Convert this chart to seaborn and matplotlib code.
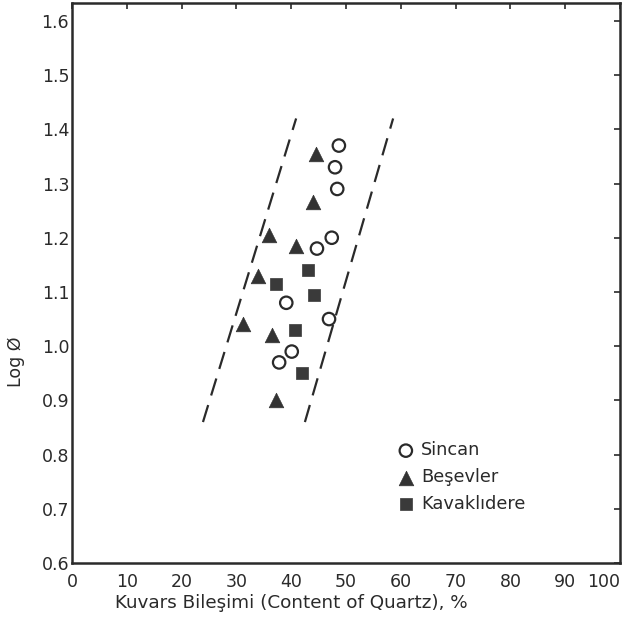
import matplotlib
matplotlib.use("Agg")
import matplotlib.pyplot as plt
import seaborn as sns
import pandas as pd

# Quartz content (%) and Log Ø for the three sampling sites
sincan_quartz = [48.7, 48.0, 48.4, 47.4, 44.7, 39.1, 46.9, 40.1, 37.8]
sincan_log = [1.37, 1.33, 1.29, 1.20, 1.18, 1.08, 1.05, 0.99, 0.97]

besevler_quartz = [44.5, 44.0, 35.9, 40.9, 33.9, 31.2, 36.5, 37.2]
besevler_log = [1.355, 1.265, 1.205, 1.185, 1.13, 1.04, 1.02, 0.90]

kavaklidere_quartz = [43.1, 37.2, 44.2, 40.7, 42.0]
kavaklidere_log = [1.14, 1.115, 1.095, 1.03, 0.95]

# Limits of the scatter band (dashed lines)
band_left_x = [23.9, 40.9]
band_right_x = [42.5, 58.6]
band_y = [0.86, 1.42]

x_ticks = [0, 10, 20, 30, 40, 50, 60, 70, 80, 90, 100]
y_ticks = [0.6, 0.7, 0.8, 0.9, 1.0, 1.1, 1.2, 1.3, 1.4, 1.5, 1.6]

sns.set_theme(style="white")
plt.rcParams["font.family"] = ["DejaVu Sans"]
ink = "#2a2a2a"

fig = plt.figure(figsize=(6.35, 6.23), dpi=100)
ax = fig.add_axes([72 / 635, 1 - 563 / 623, 548 / 635, 560 / 623])

band = pd.DataFrame({
    "x": band_left_x + band_right_x,
    "y": band_y + band_y,
    "edge": ["left"] * 2 + ["right"] * 2,
})
for edge, grp in band.groupby("edge"):
    sns.lineplot(data=grp, x="x", y="y", ax=ax, color=ink, lw=1.6,
                 sort=False, estimator=None)
for ln in ax.lines:
    ln.set_dashes([8, 4.5])

sns.scatterplot(x=sincan_quartz, y=sincan_log, ax=ax, marker="o", s=80,
                facecolor="none", edgecolor=ink, linewidth=1.6,
                label="Sincan")
sns.scatterplot(x=besevler_quartz, y=besevler_log, ax=ax, marker="^", s=110,
                color="#333333", edgecolor="#333333", linewidth=0.5,
                label="Beşevler")
sns.scatterplot(x=kavaklidere_quartz, y=kavaklidere_log, ax=ax, marker="s",
                s=68, color="#3a3a3a", edgecolor="#3a3a3a", linewidth=0.5,
                label="Kavaklıdere")

ax.set_xlim(0, 100)
ax.set_ylim(0.6, 1.633)
ax.set_xticks(x_ticks)
ax.set_yticks(y_ticks)
ax.set_xticklabels([str(t) for t in x_ticks])
ax.set_yticklabels([f"{t:.1f}" for t in y_ticks])
ax.xaxis.get_ticklabels()[-1].set_horizontalalignment("right")

ax.tick_params(direction="in", length=4, width=1.2, colors=ink,
               labelsize=12.5, top=True, right=True, labeltop=False,
               labelright=False, pad=4)
ax.tick_params(axis="y", pad=2)
ax.tick_params(axis="x", pad=7)
for side in ax.spines.values():
    side.set_visible(True)
    side.set_color(ink)
    side.set_linewidth(1.8)

ax.set_xlabel("Kuvars Bileşimi (Content of Quartz), %", fontsize=13.2,
              color=ink, labelpad=2)
ax.xaxis.set_label_coords(0.40, -0.055)
ax.set_ylabel("Log Ø", fontsize=12.5, color=ink, labelpad=6)
ax.yaxis.set_label_coords(-0.085, 0.36)

leg = ax.legend(loc="upper left", bbox_to_anchor=(0.58, 0.23), frameon=False,
                fontsize=12.8, handletextpad=0.35, labelspacing=0.5,
                borderaxespad=0, handlelength=1.0)
for txt in leg.get_texts():
    txt.set_color(ink)

fig.savefig("out.png", dpi=100, facecolor="white")
